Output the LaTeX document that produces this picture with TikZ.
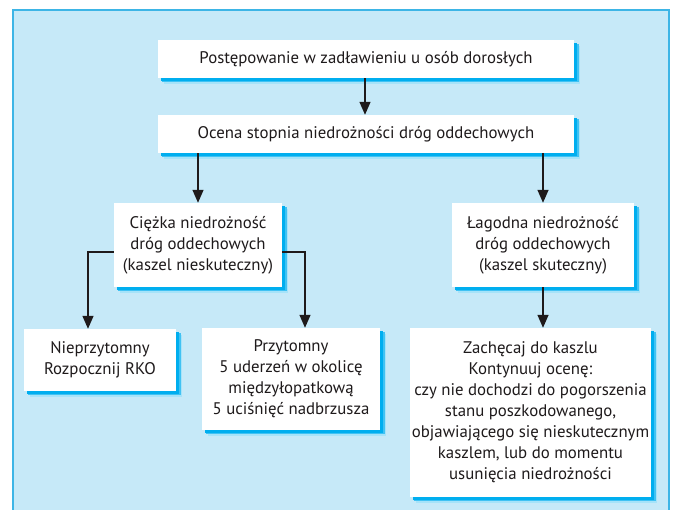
\documentclass[tikz,border=0pt]{standalone}
\usepackage{fontspec}
\setmainfont{PT Sans}
\usetikzlibrary{arrows.meta}
\definecolor{bgblue}{HTML}{C6E9F8}
\definecolor{frameblue}{HTML}{3DB5E6}
\definecolor{shadowblue}{HTML}{00AEEF}
\definecolor{txt}{HTML}{1E1A1B}
\tikzset{
  x=1pt, y=1pt,
  box/.style={fill=white, draw=none, align=center, text=txt, inner sep=0pt,
    font=\fontsize{16.8}{21}\selectfont},
  conn/.style={draw=txt, line width=1.4pt, -{Triangle[width=11pt,length=13pt]}},
}
\newcommand{\shbox}[6]{% name, cx, cy, w, h, text
  \fill[shadowblue!35] (#2-#4/2+6,#3-#5/2-6) rectangle (#2+#4/2+6,#3+#5/2-6);
  \fill[shadowblue!75] (#2-#4/2+4,#3-#5/2-4.5) rectangle (#2+#4/2+4.5,#3+#5/2-4);
  \fill[shadowblue] (#2-#4/2+3,#3-#5/2-3) rectangle (#2+#4/2+3,#3+#5/2-3);
  \node[box, minimum width=#4pt, minimum height=#5pt] (#1) at (#2,#3) {#6};
}
\begin{document}
\begin{tikzpicture}
\useasboundingbox (0,0) rectangle (676,510);
\clip (0,0) rectangle (676,510);
\fill[white] (0,0) rectangle (676,510);
\draw[fill=bgblue, draw=frameblue, line width=1.3pt] (13,-10) rectangle (669,500);

\shbox{b1}{366}{451}{416}{38}{Postępowanie w zadławieniu u osób dorosłych}
\shbox{b2}{366}{376}{416}{38}{Ocena stopnia niedrożności dróg oddechowych}
\shbox{b3}{198}{265}{168}{84}{Ciężka niedrożność\\dróg oddechowych\\(kaszel nieskuteczny)}
\shbox{b4}{543}{265}{182}{84}{Łagodna niedrożność\\dróg oddechowych\\(kaszel skuteczny)}
\shbox{b5}{100}{150}{152}{62}{Nieprzytomny\\Rozpocznij RKO}
\shbox{b6}{291}{131}{178}{102}{Przytomny\\5 uderzeń w okolicę\\międzyłopatkową\\5 uciśnięć nadbrzusza}
\shbox{b7}{530.5}{97.5}{241}{169}{Zachęcaj do kaszlu\\Kontynuuj ocenę:\\czy nie dochodzi do pogorszenia\\stanu poszkodowanego,\\objawiającego się nieskutecznym\\kaszlem, lub do momentu\\usunięcia niedrożności}

\coordinate (l1) at (88,258);
\coordinate (r1) at (305,258);
\draw[conn] (b1.south -| 365,0) -- (b2.north -| 365,0);
\draw[conn] (b2.south -| b3.north) -- (b3.north);
\draw[conn] (b2.south -| b4.north) -- (b4.north);
\draw[conn] (b4.south) -- (b7.north -| b4.south);
\draw[conn] (b3.west |- l1) -- (l1) -- (l1 |- b5.north);
\draw[conn] (b3.east |- r1) -- (r1) -- (r1 |- b6.north);
\end{tikzpicture}
\end{document}
